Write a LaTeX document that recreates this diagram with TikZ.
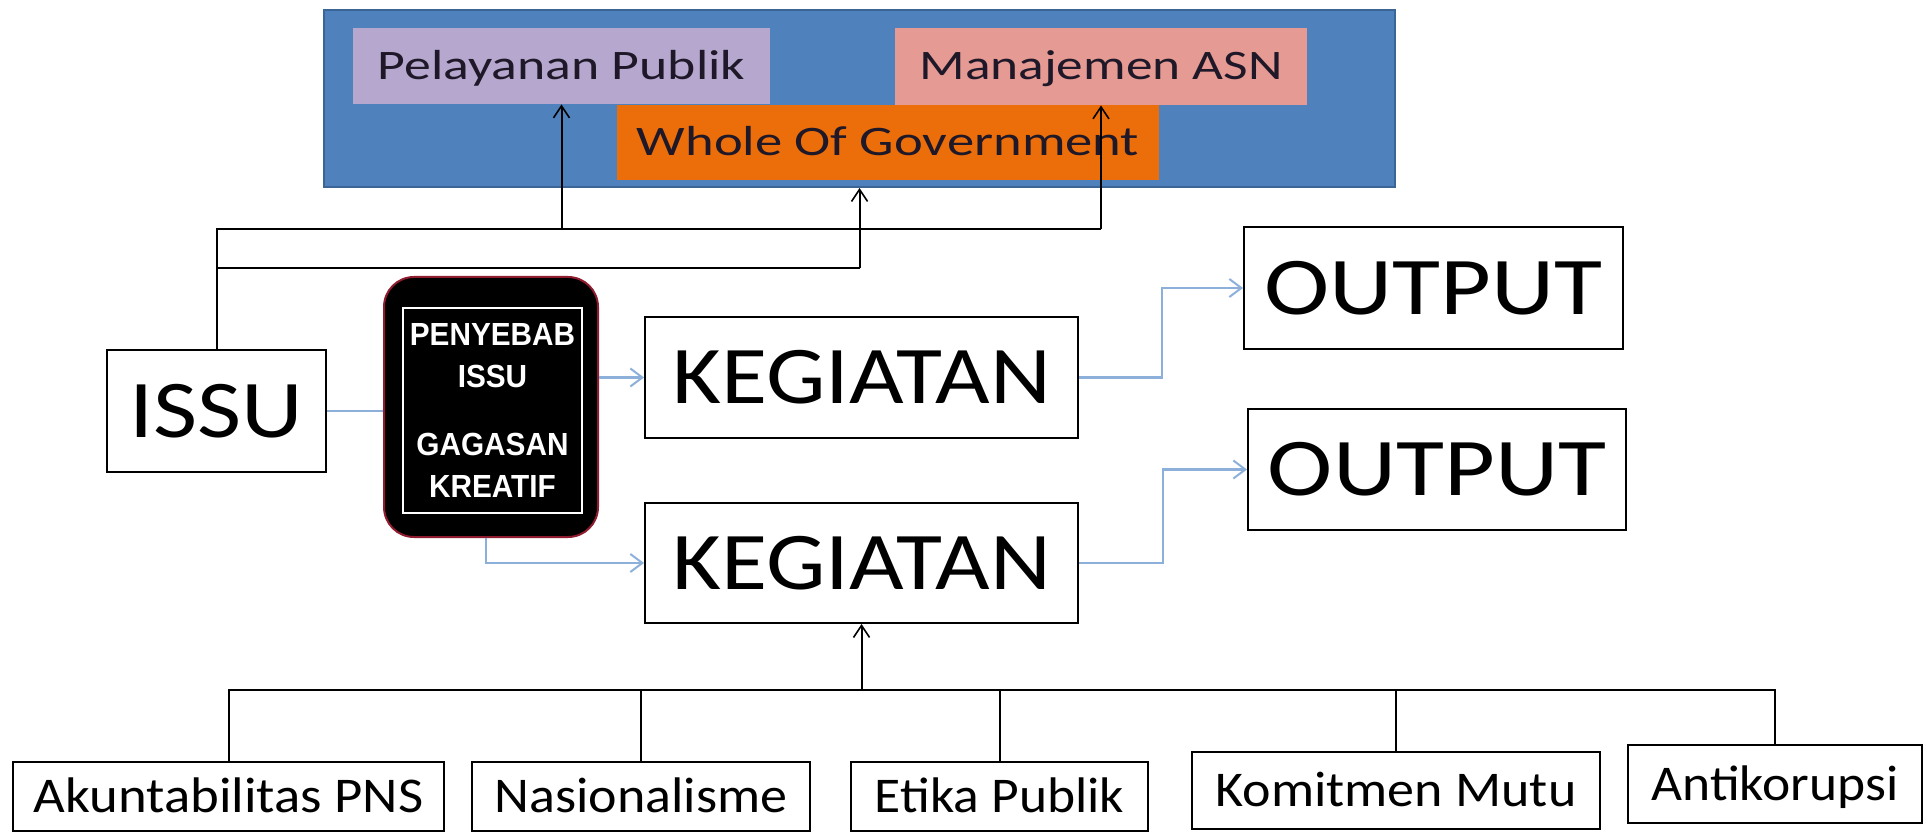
\documentclass[tikz,border=0pt]{standalone}
\usepackage{fontspec}
\setmainfont{Carlito}
\newfontfamily\arialf{Liberation Sans}
\usetikzlibrary{arrows.meta}
\definecolor{panelblue}{HTML}{4F81BD}
\definecolor{paneledge}{HTML}{3B6497}
\definecolor{lav}{HTML}{B6A7CE}
\definecolor{salmon}{HTML}{E59A93}
\definecolor{orng}{HTML}{EC6E0A}
\definecolor{conblue}{HTML}{8DB0DA}
\definecolor{darkred}{HTML}{8E1B2E}
\definecolor{labeltext}{HTML}{1E1828}
\begin{document}
\begin{tikzpicture}[x=0.5pt,y=-0.5pt,
  wbox/.style={draw=black,line width=1pt,fill=white,inner sep=0pt,anchor=center,text depth=0pt},
  bigtxt/.style={font=\fontsize{41}{45}\selectfont,text height=26.4pt},
  smalltxt/.style={font=\fontsize{25}{29}\selectfont,text height=16.1pt},
  toplabel/.style={inner sep=0pt,anchor=center,text depth=0pt,text=labeltext,
    font=\fontsize{21}{25}\selectfont,text height=13.5pt},
  blackline/.style={draw=black,line width=1pt},
  blueline/.style={draw=conblue,line width=1.3pt},
  blacktip/.style={-{Straight Barb[length=6pt,width=8pt,line width=0.8pt]}},
  bluetip/.style={-{Straight Barb[length=6pt,width=9pt,line width=1pt]}}
]
\useasboundingbox (0,0) rectangle (1928,834);
\fill[white] (0,0) rectangle (1928,834);

% top panel
\node[draw=paneledge,line width=1pt,fill=panelblue,minimum width=535.5pt,minimum height=88.5pt,inner sep=0pt] (govpanel) at (859.5,98.5) {};
\node[toplabel,fill=lav,minimum width=208.5pt,minimum height=38pt] (pel) at (561.5,66) {\scalebox{1.28}[1]{Pelayanan Publik}};
\node[toplabel,fill=salmon,minimum width=206pt,minimum height=38.5pt] (man) at (1101,66.5) {\scalebox{1.27}[1]{Manajemen ASN}};
\node[toplabel,fill=orng,minimum width=271pt,minimum height=37.5pt] (wog) at (888,142.5) {\scalebox{1.30}[1]{Whole Of Government}};

% main nodes
\node[wbox,bigtxt,minimum width=109.5pt,minimum height=61pt] (issu) at (216.5,411) {\scalebox{1.17}[1]{ISSU}};
\node[draw=darkred,line width=1pt,fill=black,rounded corners=15pt,minimum width=107pt,minimum height=130pt,inner sep=0pt] (blk) at (491,407) {};
\node[draw=white,line width=0.7pt,minimum width=89.5pt,minimum height=102.5pt,inner sep=0pt,
  text=white,align=center,font=\arialf\bfseries\fontsize{16}{21}\selectfont] (blkin) at (492.5,410.5)
  {\scalebox{0.93}[1]{PENYEBAB}\\\scalebox{0.93}[1]{ISSU}\\[13pt]\scalebox{0.93}[1]{GAGASAN}\\\scalebox{0.93}[1]{KREATIF}};
\node[wbox,bigtxt,minimum width=216.5pt,minimum height=60.5pt] (keg1) at (861.5,377.5) {\scalebox{1.15}[1]{KEGIATAN}};
\node[wbox,bigtxt,minimum width=216.5pt,minimum height=60pt] (keg2) at (861.5,563) {\scalebox{1.15}[1]{KEGIATAN}};
\node[wbox,bigtxt,minimum width=189.5pt,minimum height=61pt] (out1) at (1433.5,288) {\scalebox{1.20}[1]{OUTPUT}};
\node[wbox,bigtxt,minimum width=189pt,minimum height=60.5pt] (out2) at (1437,469.5) {\scalebox{1.20}[1]{OUTPUT}};

% bottom nodes
\node[wbox,smalltxt,minimum width=215.5pt,minimum height=34.5pt] (akun) at (228.5,796.5) {\scalebox{1.095}[1]{Akuntabilitas PNS}};
\node[wbox,smalltxt,minimum width=169pt,minimum height=34.5pt] (nas) at (641,796.5) {\scalebox{1.08}[1]{Nasionalisme}};
\node[wbox,smalltxt,minimum width=148.5pt,minimum height=34.5pt] (eti) at (999.5,796.5) {\scalebox{1.07}[1]{Etika Publik}};
\node[wbox,smalltxt,minimum width=204pt,minimum height=38.5pt] (kom) at (1396,790.5) {\scalebox{1.08}[1]{Komitmen Mutu}};
\node[wbox,smalltxt,minimum width=147pt,minimum height=39pt] (anti) at (1775,784) {\scalebox{1.07}[1]{Antikorupsi}};

% levels
\coordinate (lvlA) at (0,229);
\coordinate (lvlB) at (0,268);
\coordinate (lvlC) at (0,690);

% black connectors (top)
\draw[blackline] (issu.north) -- (issu.north |- lvlA) -- (man.south |- lvlA);
\draw[blackline,blacktip] (man.south |- lvlA) -- (man.south);
\draw[blackline,blacktip] (pel.south |- lvlA) -- (pel.south);
\draw[blackline] (issu.north |- lvlB) -- (govpanel.south |- lvlB);
\draw[blackline,blacktip] (govpanel.south |- lvlB) -- (govpanel.south);

% black connectors (bottom)
\draw[blackline] (akun.north) -- (akun.north |- lvlC) -- (anti.north |- lvlC) -- (anti.north);
\draw[blackline] (nas.north) -- (nas.north |- lvlC);
\draw[blackline] (eti.north) -- (eti.north |- lvlC);
\draw[blackline] (kom.north) -- (kom.north |- lvlC);
\draw[blackline,blacktip] (keg2.south |- lvlC) -- (keg2.south);

% light blue connectors
\draw[blueline] (issu.east) -- (issu.east -| blk.west);
\draw[blueline,bluetip] (blk.east |- keg1.west) -- (keg1.west);
\draw[blueline,bluetip] ([xshift=-2.5pt]blk.south) |- (keg2.west);
\draw[blueline,bluetip] (keg1.east) -- ++(83,0) |- (out1.west);
\draw[blueline,bluetip] (keg2.east) -- ++(84,0) |- (out2.west);
\end{tikzpicture}
\end{document}
